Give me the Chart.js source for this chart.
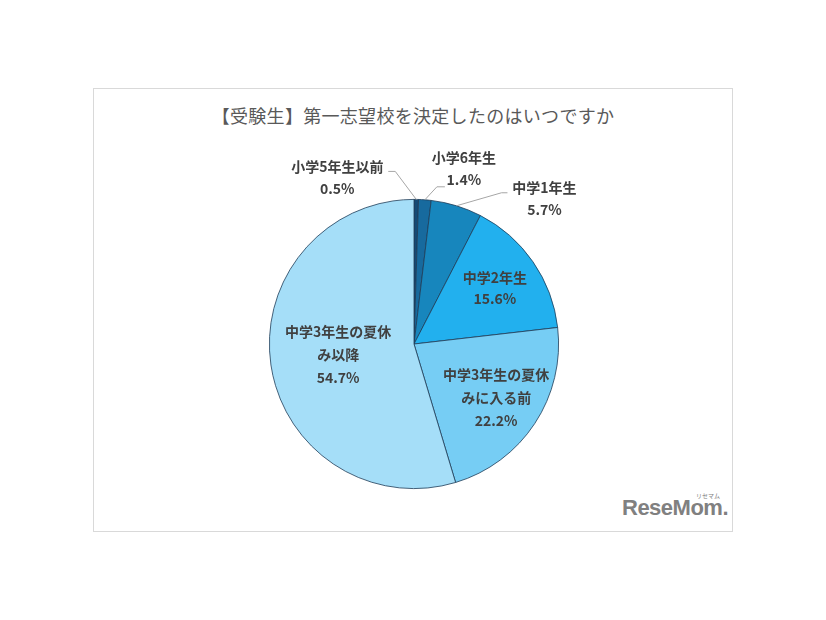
<!DOCTYPE html>
<html>
<head>
<meta charset="utf-8">
<script src="https://cdn.jsdelivr.net/npm/chart.js@4"></script>
<style>
  body { margin: 0; background: #fff; }
  #wrap { position: relative; width: 826px; height: 620px; }
  #frame { position: absolute; left: 93px; top: 88px; width: 638px; height: 442px; border: 1px solid #d9d9d9; }
  #title { position: absolute; left: 93px; width: 640px; top: 102px; text-align: center;
           font: 18px "Noto Sans CJK JP", sans-serif; color: #595959; letter-spacing: 0.3px; }
  #logo { position: absolute; left: 622px; top: 495px; font: bold 22px "Liberation Sans", Arial, sans-serif;
          color: #808080; letter-spacing: -0.5px; }
  #logo small { position: absolute; right: 8px; top: -4px; font: 6px "Noto Sans CJK JP", sans-serif; letter-spacing: 0; }
  canvas { position: absolute; left: 0; top: 0; }
</style>
</head>
<body>
<div id="wrap">
  <div id="frame"></div>
  <div id="title">【受験生】第一志望校を決定したのはいつですか</div>
  <div id="logo">ReseMom.<small>リセマム</small></div>
  <canvas id="pie" width="826" height="620"></canvas>
</div>
<script>
const categories = [
  ["小学5年生以前"],
  ["小学6年生"],
  ["中学1年生"],
  ["中学2年生"],
  ["中学3年生の夏休", "みに入る前"],
  ["中学3年生の夏休", "み以降"],
];
const shares = [0.5, 1.4, 5.7, 15.6, 22.2, 54.7];
const sliceColors = ["#154a75", "#176a9e", "#1786bd", "#22b0ee", "#76cdf4", "#a5def8"];

// where each label goes: inside at a radius ratio, or outside with a leader line
const labelSpots = [
  { out: true, elbow: [-21, -28], end: [-28, -28], text: [-79, -33] },
  { out: true, elbow: [12, -13], end: [20, -13], text: [39, -42] },
  { out: true, elbow: [45, -13], end: [51, -13], text: [88, -18] },
  { out: false, r: 0.68 },
  { out: false, r: 0.68 },
  { out: false, r: 0.53 },
];

const labelPlugin = {
  id: "sliceLabels",
  afterDatasetsDraw(chart) {
    const ctx = chart.ctx;
    const arcs = chart.getDatasetMeta(0).data;
    ctx.save();
    ctx.font = "bold 14px 'Noto Sans CJK JP', sans-serif";
    ctx.fillStyle = "#404040";
    ctx.textAlign = "center";
    ctx.textBaseline = "middle";
    arcs.forEach((arc, i) => {
      const mid = (arc.startAngle + arc.endAngle) / 2;
      const spot = labelSpots[i];
      const lines = categories[i].concat([shares[i].toFixed(1) + "%"]);
      if (spot.out) {
        const sx = arc.x + Math.cos(mid) * arc.outerRadius;
        const sy = arc.y + Math.sin(mid) * arc.outerRadius;
        ctx.strokeStyle = "#a6a6a6";
        ctx.lineWidth = 1;
        ctx.beginPath();
        ctx.moveTo(sx, sy);
        ctx.lineTo(sx + spot.elbow[0], sy + spot.elbow[1]);
        ctx.lineTo(sx + spot.end[0], sy + spot.end[1]);
        ctx.stroke();
        const tx = sx + spot.text[0];
        let ty = sy + spot.text[1];
        lines.forEach((ln) => {
          ctx.fillText(ln, tx, ty);
          ty += 22;
        });
      } else {
        const cx = arc.x + Math.cos(mid) * arc.outerRadius * spot.r;
        const cy = arc.y + Math.sin(mid) * arc.outerRadius * spot.r;
        const step = lines.length > 2 ? 23 : 21;
        let ty = cy - (step * (lines.length - 1)) / 2;
        lines.forEach((ln) => {
          ctx.fillText(ln, cx, ty);
          ty += step;
        });
      }
    });
    ctx.restore();
  },
};

new Chart(document.getElementById("pie"), {
  type: "pie",
  data: {
    labels: categories,
    datasets: [
      {
        data: shares,
        backgroundColor: sliceColors,
        borderColor: "#1e3c58",
        borderWidth: 0.8,
      },
    ],
  },
  options: {
    responsive: false,
    animation: false,
    layout: { padding: { top: 199, bottom: 131, left: 269, right: 267 } },
    plugins: {
      legend: { display: false },
      tooltip: { enabled: false },
      title: { display: false },
    },
  },
  plugins: [labelPlugin],
});
</script>
</body>
</html>
